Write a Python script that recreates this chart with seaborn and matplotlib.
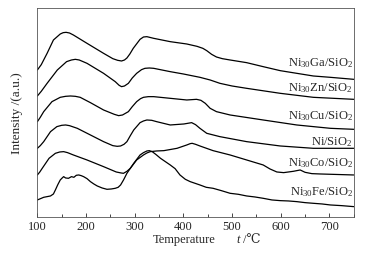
import matplotlib
matplotlib.use("Agg")
import matplotlib.pyplot as plt
import seaborn as sns
import pandas as pd
from matplotlib.ticker import MultipleLocator

# Temperatures (°C) and offset intensities (arbitrary units)
ga_t = [100, 108, 120, 133, 147, 153, 159, 166, 174, 202, 236, 255, 265, 273, 279, 284, 290, 297, 311, 318, 325, 339, 373, 407, 428, 440, 448, 458, 468, 480, 496, 530, 564, 599, 633, 667, 702, 750]
ga_y = [442, 458, 492, 532, 550, 554, 555, 553, 547, 522, 492, 476, 471, 469, 472, 478, 490, 507, 534, 541, 542, 537, 527, 520, 513, 507, 500, 489, 481, 476, 472, 464, 452, 440, 432, 424, 420, 414]

zn_t = [100, 108, 120, 141, 160, 170, 178, 186, 202, 236, 260, 268, 273, 279, 287, 295, 304, 314, 321, 330, 339, 373, 400, 434, 455, 475, 500, 530, 599, 667, 750]
zn_y = [364, 378, 402, 442, 467, 472, 474, 472, 462, 432, 407, 396, 392, 394, 402, 418, 432, 443, 447, 448, 447, 437, 430, 420, 412, 402, 394, 387, 372, 360, 354]

cu_t = [100, 106, 113, 130, 147, 158, 168, 178, 188, 209, 236, 258, 267, 275, 287, 295, 304, 312, 318, 328, 339, 373, 407, 427, 436, 445, 455, 468, 496, 564, 633, 702, 750]
cu_y = [287, 300, 317, 347, 360, 363, 364, 363, 360, 344, 322, 309, 305, 307, 317, 332, 347, 356, 360, 362, 362, 357, 352, 354, 351, 342, 327, 317, 307, 292, 277, 267, 264]

ni_t = [100, 106, 113, 127, 140, 150, 158, 166, 182, 209, 236, 255, 264, 271, 278, 284, 291, 298, 311, 318, 325, 335, 345, 373, 401, 417, 425, 434, 448, 475, 530, 599, 667, 750]
ni_y = [207, 215, 227, 257, 272, 276, 277, 275, 267, 247, 227, 215, 213, 214, 219, 227, 245, 262, 284, 289, 292, 291, 287, 277, 280, 284, 278, 267, 252, 242, 227, 214, 207, 207]

co_t = [100, 105, 110, 124, 137, 146, 154, 162, 174, 202, 236, 262, 272, 277, 284, 291, 304, 318, 325, 332, 345, 360, 387, 407, 414, 418, 425, 434, 461, 496, 530, 564, 578, 592, 606, 626, 640, 650, 664, 681, 750]
co_y = [127, 136, 147, 177, 192, 196, 197, 194, 187, 172, 152, 136, 133, 132, 138, 147, 172, 187, 193, 197, 199, 200, 207, 217, 221, 222, 219, 214, 200, 187, 172, 157, 145, 136, 134, 138, 142, 135, 131, 130, 127]

fe_t = [100, 113, 127, 133, 137, 142, 147, 151, 154, 158, 164, 170, 175, 180, 185, 190, 195, 202, 209, 216, 223, 233, 243, 252, 260, 266, 271, 277, 284, 298, 311, 318, 325, 330, 336, 344, 353, 363, 373, 383, 393, 404, 414, 424, 434, 447, 461, 478, 496, 513, 530, 547, 564, 582, 599, 616, 633, 650, 667, 685, 702, 725, 750]
fe_y = [52, 60, 64, 70, 82, 98, 112, 118, 122, 118, 117, 122, 120, 126, 127, 125, 122, 116, 107, 100, 94, 88, 84, 85, 87, 90, 97, 112, 132, 162, 187, 194, 199, 200, 197, 188, 177, 167, 157, 146, 127, 114, 107, 102, 97, 90, 87, 80, 72, 69, 64, 61, 57, 52, 50, 49, 47, 44, 42, 40, 37, 35, 32]

labels = [r"Ni$_{30}$Ga/SiO$_2$", r"Ni$_{30}$Zn/SiO$_2$", r"Ni$_{30}$Cu/SiO$_2$",
          r"Ni/SiO$_2$", r"Ni$_{30}$Co/SiO$_2$", r"Ni$_{30}$Fe/SiO$_2$"]
label_y = [462, 387, 305, 227, 162, 77]

series = [(ga_t, ga_y), (zn_t, zn_y), (cu_t, cu_y), (ni_t, ni_y), (co_t, co_y), (fe_t, fe_y)]

sns.set_style("ticks")
plt.rcParams['font.family'] = ['Liberation Serif', 'DejaVu Serif']
plt.rcParams['mathtext.fontset'] = 'custom'
plt.rcParams['mathtext.rm'] = 'Liberation Serif'
plt.rcParams['mathtext.it'] = 'Liberation Serif:italic'

fig = plt.figure(figsize=(3.7, 2.54), dpi=100)
ax = fig.add_axes([0.101, 0.1445, 0.855, 0.824])

for t, y in series:
    df = pd.DataFrame({"T": t, "I": y})
    sns.lineplot(data=df, x="T", y="I", ax=ax, color="black", lw=0.9,
                 estimator=None, sort=False)

for lab, yy in zip(labels, label_y):
    ax.text(748, yy, lab, ha="right", va="center", fontsize=9)

ax.set_xlim(100, 750)
ax.set_ylim(0, 628)
ax.set_yticks([])
ax.xaxis.set_major_locator(MultipleLocator(100))
ax.xaxis.set_minor_locator(MultipleLocator(50))
ax.tick_params(axis="x", which="major", direction="in", length=3, width=0.6, labelsize=9, pad=3)
ax.tick_params(axis="x", which="minor", direction="in", length=2, width=0.6)
for s in ax.spines.values():
    s.set_linewidth(0.6)
    s.set_color("#555555")
ax.set_xlabel("")
ax.set_ylabel("Intensity /(a.u.)", fontsize=9.5, labelpad=10)

fig.text(184 / 370, 1 - 240 / 254, "Temperature", ha="center", va="center", fontsize=9)
fig.text(238 / 370, 1 - 240 / 254, "t", ha="center", va="center", fontsize=9, style="italic")
fig.text(243 / 370, 1 - 240 / 254, "/℃", ha="left", va="center", fontsize=9,
         family=['Liberation Serif', 'DejaVu Serif'])

fig.savefig("out.png", dpi=100)
